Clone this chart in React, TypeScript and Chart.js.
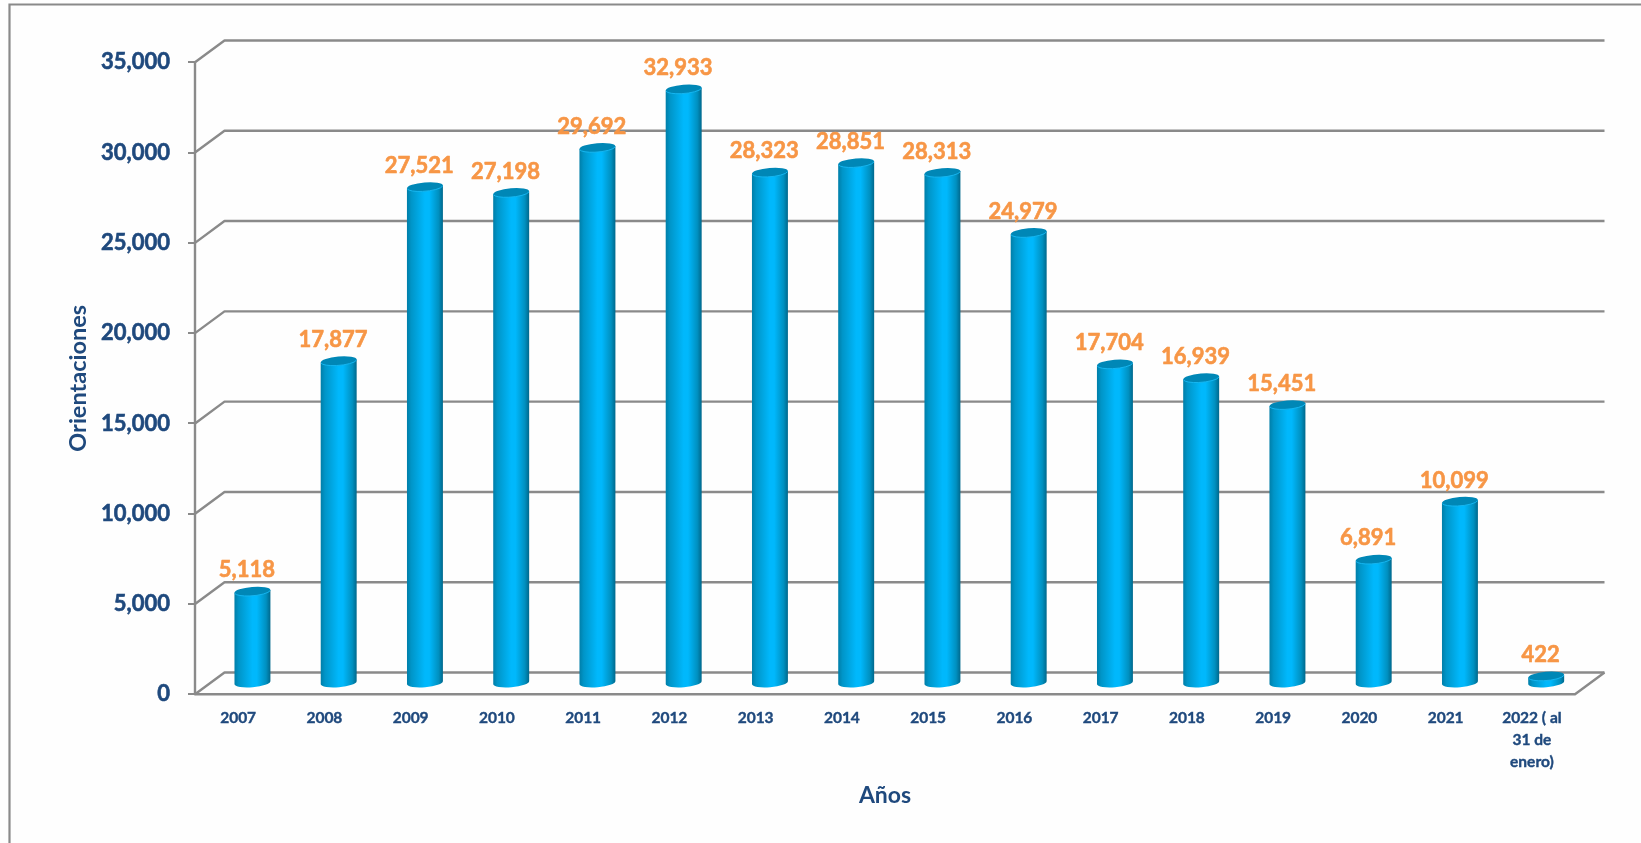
import React, { useEffect, useRef } from "react";
import { Chart, registerables } from "chart.js";

Chart.register(...registerables);

const categories: (string | string[])[] = [
  "2007", "2008", "2009", "2010", "2011", "2012", "2013", "2014",
  "2015", "2016", "2017", "2018", "2019", "2020", "2021", ["2022 ( al", "31 de", "enero)"],
];
const orientaciones = [
  5118, 17877, 27521, 27198, 29692, 32933, 28323, 28851,
  28313, 24979, 17704, 16939, 15451, 6891, 10099, 422,
];
const seriesName = "Orientaciones";
const xTitle = "Años";
const yTitle = "Orientaciones";

const GREY = "#8A8A8A";
const NAVY = "#1F497D";
const ORANGE = "#F79646";
const FONT = "Lato";
const DX = 29.5;
const DY = 21.8;
const BAR_DX = 14.3;
const BAR_DY = 10.5;
const TILT = -0.083;
const RY = 4.4;

const cylinder3d = {
  id: "cylinder3d",
  beforeDraw(chart: any) {
    const { ctx, width, height } = chart;
    ctx.save();
    ctx.fillStyle = "#FEFEFE";
    ctx.fillRect(0, 0, width, height);
    ctx.strokeStyle = GREY;
    ctx.lineWidth = 2.2;
    ctx.beginPath();
    ctx.moveTo(9.5, height);
    ctx.lineTo(9.5, 4.5);
    ctx.lineTo(width, 4.5);
    ctx.stroke();
    ctx.restore();
  },
  beforeDatasetsDraw(chart: any) {
    const { ctx, chartArea, scales } = chart;
    const y = scales.y;
    ctx.save();
    ctx.strokeStyle = GREY;
    ctx.lineWidth = 2.4;
    ctx.lineJoin = "round";
    y.ticks.forEach((t: any) => {
      const py = y.getPixelForValue(t.value);
      ctx.beginPath();
      ctx.moveTo(chartArea.left, py);
      ctx.lineTo(chartArea.left + DX, py - DY);
      ctx.lineTo(chartArea.right + DX, py - DY);
      ctx.stroke();
    });
    const base = y.getPixelForValue(0);
    ctx.beginPath();
    ctx.moveTo(chartArea.left, chartArea.top);
    ctx.lineTo(chartArea.left, base);
    ctx.lineTo(chartArea.right, base);
    ctx.lineTo(chartArea.right + DX, base - DY);
    ctx.stroke();
    ctx.restore();
  },
  beforeDatasetDraw(chart: any, args: any) {
    const { ctx } = chart;
    const meta = args.meta;
    meta.data.forEach((bar: any) => {
      const cx = bar.x + BAR_DX;
      const top = bar.y - BAR_DY;
      const bottom = bar.base - BAR_DY;
      const rx = bar.width / 2;
      const g = ctx.createLinearGradient(cx - rx, 0, cx + rx, 0);
      g.addColorStop(0, "#007EA8");
      g.addColorStop(0.12, "#0095C8");
      g.addColorStop(0.5, "#00B8FC");
      g.addColorStop(0.62, "#00B8FC");
      g.addColorStop(0.88, "#0090C0");
      g.addColorStop(1, "#00688C");
      const sin = Math.sin(TILT) * rx;
      ctx.save();
      ctx.fillStyle = g;
      ctx.beginPath();
      ctx.moveTo(cx - rx, top - sin);
      ctx.lineTo(cx + rx, top + sin);
      ctx.lineTo(cx + rx, bottom + sin);
      ctx.ellipse(cx, bottom, rx, RY, TILT, 0, Math.PI);
      ctx.lineTo(cx - rx, top - sin);
      ctx.closePath();
      ctx.fill();
      ctx.fillStyle = "#0087B6";
      ctx.beginPath();
      ctx.ellipse(cx, top, rx, RY, TILT, 0, Math.PI * 2);
      ctx.fill();
      ctx.strokeStyle = "#16B6F0";
      ctx.lineWidth = 1;
      ctx.beginPath();
      ctx.ellipse(cx, top, rx, RY, TILT, Math.PI * 0.05, Math.PI * 0.95);
      ctx.stroke();
      ctx.restore();
    });
    return false;
  },
  afterDatasetsDraw(chart: any) {
    const { ctx } = chart;
    const meta = chart.getDatasetMeta(0);
    ctx.save();
    ctx.fillStyle = ORANGE;
    ctx.strokeStyle = ORANGE;
    ctx.lineWidth = 0.6;
    ctx.lineJoin = "round";
    ctx.font = `bold 22px ${FONT}`;
    ctx.textAlign = "center";
    ctx.textBaseline = "middle";
    meta.data.forEach((bar: any, i: number) => {
      const label = orientaciones[i].toLocaleString("en-US");
      ctx.fillText(label, bar.x + 8.7, bar.y - 31.5);
      ctx.strokeText(label, bar.x + 8.7, bar.y - 31.5);
    });
    ctx.restore();
  },
};

export default function App() {
  const ref = useRef<HTMLCanvasElement>(null);
  useEffect(() => {
    document.body.style.margin = "0";
    document.body.style.background = "#FEFEFE";
    const chart = new Chart(ref.current!, {
      type: "bar",
      data: {
        labels: categories as any,
        datasets: [
          {
            label: seriesName,
            data: orientaciones,
            backgroundColor: "#00B8FC",
            categoryPercentage: 1,
            barPercentage: 0.417,
          },
        ],
      },
      plugins: [cylinder3d],
      options: {
        animation: false,
        responsive: false,
        devicePixelRatio: 1,
        layout: { padding: { left: 0, right: 66, top: 62.3, bottom: 0 } },
        plugins: { legend: { display: false }, tooltip: { enabled: false } },
        scales: {
          x: {
            grid: { display: false },
            border: { display: false },
            ticks: {
              color: NAVY,
              font: { family: FONT, weight: "bold", size: 15.5, lineHeight: 1.4 },
              padding: 5,
              maxRotation: 0,
              minRotation: 0,
              autoSkip: false,
              textStrokeColor: NAVY,
              textStrokeWidth: 0.4,
            },
            title: {
              display: true,
              text: xTitle,
              color: NAVY,
              font: { family: FONT, weight: "bold", size: 23 },
              padding: { top: 0, bottom: 34 },
            },
            afterFit: (s: any) => {
              s.height = 148.7;
            },
          },
          y: {
            min: 0,
            max: 35000,
            grid: {
              drawOnChartArea: false,
              drawTicks: true,
              tickLength: 7,
              color: GREY,
              lineWidth: 2,
            },
            border: { display: false },
            ticks: {
              stepSize: 5000,
              color: NAVY,
              font: { family: FONT, weight: "bold", size: 22 },
              padding: 18,
              textStrokeColor: NAVY,
              textStrokeWidth: 0.6,
              callback: (v: any) => Number(v).toLocaleString("en-US"),
            },
            title: {
              display: true,
              text: yTitle,
              color: NAVY,
              font: { family: FONT, weight: "bold", size: 23.5 },
              padding: { top: 64, bottom: 0 },
            },
            afterFit: (s: any) => {
              s.width = 195;
            },
          },
        },
      },
    } as any);
    return () => chart.destroy();
  }, []);
  return <canvas ref={ref} width={1641} height={843} style={{ display: "block" }} />;
}
